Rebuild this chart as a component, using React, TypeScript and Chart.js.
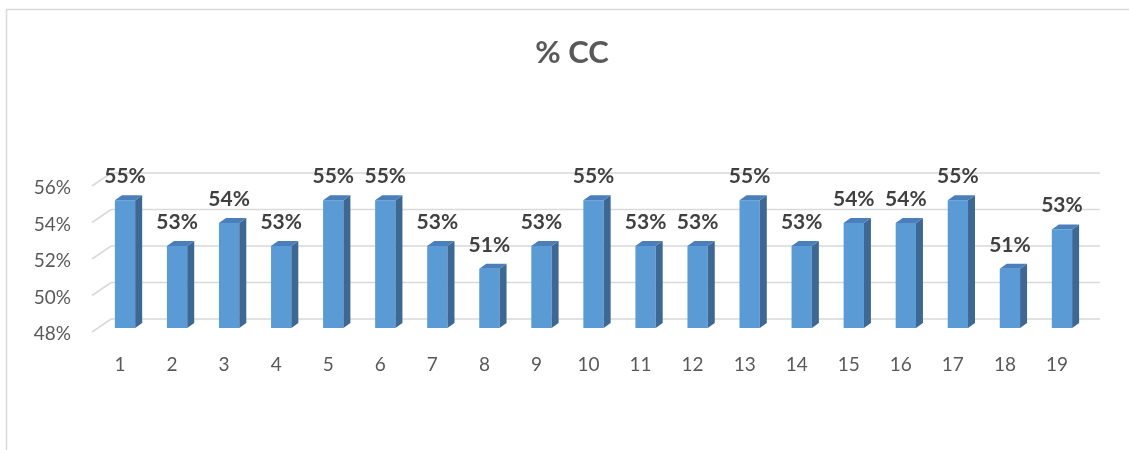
import React, { useEffect, useRef } from "react";
import { Chart, registerables } from "chart.js";

Chart.register(...registerables);

const categories: string[] = ["1","2","3","4","5","6","7","8","9","10","11","12","13","14","15","16","17","18","19"];
const ccValues: number[] = [55, 52.5, 53.75, 52.5, 55, 55, 52.5, 51.25, 52.5, 55, 52.5, 52.5, 55, 52.5, 53.75, 53.75, 55, 51.25, 53.4];
const yMin = 48;
const yMax = 56;
const yStep = 2;
const titleText = "% CC";

const FONT = "Lato, 'Open Sans', sans-serif";

const DEPTH_BAR = { dx: 7, dy: -5 };
const FRONT = { dx: -7, dy: 4 };
const BACK = { dx: 12, dy: -9 };

const threeDPlugin = {
  id: "threeD",
  beforeDraw(chart: any) {
    const ctx = chart.ctx;
    ctx.save();
    ctx.strokeStyle = "#d9d9d9";
    ctx.lineWidth = 1.5;
    ctx.beginPath();
    ctx.moveTo(6.5, 460);
    ctx.lineTo(6.5, 9.5);
    ctx.lineTo(1140, 9.5);
    ctx.stroke();
    // title
    ctx.fillStyle = "#595959";
    ctx.font = `bold 31px ${FONT}`;
    ctx.textAlign = "center";
    ctx.textBaseline = "middle";
    ctx.fillText(titleText, 572, 53);
    ctx.restore();
  },
  beforeDatasetsDraw(chart: any) {
    const ctx = chart.ctx;
    const ys = chart.scales.y;
    const area = chart.chartArea;
    ctx.save();
    ctx.strokeStyle = "#d9d9d9";
    ctx.lineWidth = 1.6;
    ys.ticks.forEach((t: any) => {
      const y = ys.getPixelForValue(t.value);
      ctx.beginPath();
      ctx.moveTo(area.left + FRONT.dx, y + FRONT.dy);
      ctx.lineTo(area.left + BACK.dx, y + BACK.dy);
      ctx.lineTo(area.right + BACK.dx, y + BACK.dy);
      ctx.stroke();
    });
    ctx.restore();
  },
  afterDatasetsDraw(chart: any) {
    const ctx = chart.ctx;
    const ys = chart.scales.y;
    const meta = chart.getDatasetMeta(0);
    const data = chart.data.datasets[0].data as number[];
    const base = ys.getPixelForValue(yMin);
    ctx.save();
    meta.data.forEach((bar: any, i: number) => {
      const { x, y, width } = bar.getProps(["x", "y", "width"], true);
      const l = x - width / 2;
      const r = x + width / 2;
      // side face
      ctx.fillStyle = "#3d6894";
      ctx.beginPath();
      ctx.moveTo(r, y);
      ctx.lineTo(r + DEPTH_BAR.dx, y + DEPTH_BAR.dy);
      ctx.lineTo(r + DEPTH_BAR.dx, base + DEPTH_BAR.dy);
      ctx.lineTo(r, base);
      ctx.closePath();
      ctx.fill();
      // top face
      ctx.fillStyle = "#4a7fbb";
      ctx.beginPath();
      ctx.moveTo(l, y);
      ctx.lineTo(l + DEPTH_BAR.dx, y + DEPTH_BAR.dy);
      ctx.lineTo(r + DEPTH_BAR.dx, y + DEPTH_BAR.dy);
      ctx.lineTo(r, y);
      ctx.closePath();
      ctx.fill();
      // data label
      ctx.fillStyle = "#404040";
      ctx.font = `bold 21px ${FONT}`;
      ctx.textAlign = "center";
      ctx.textBaseline = "alphabetic";
      ctx.fillText(`${Math.round(data[i])}%`, x, y - 17);
    });
    ctx.restore();
  },
};

export default function App() {
  const canvasRef = useRef<HTMLCanvasElement | null>(null);

  useEffect(() => {
    if (!canvasRef.current) return;
    const chart = new Chart(canvasRef.current, {
      type: "bar",
      data: {
        labels: categories,
        datasets: [
          {
            data: ccValues,
            backgroundColor: "#5b9bd5",
            borderWidth: 0,
            categoryPercentage: 1,
            barPercentage: 0.39,
          },
        ],
      },
      plugins: [threeDPlugin],
      options: {
        animation: false,
        responsive: false,
        devicePixelRatio: 1,
        layout: { padding: { left: 0, right: 41, top: 182, bottom: 62 } },
        plugins: {
          legend: { display: false },
          tooltip: { enabled: false },
          title: { display: false },
        },
        scales: {
          x: {
            offset: true,
            grid: { display: false, drawTicks: false },
            border: { display: false },
            ticks: {
              color: "#595959",
              font: { family: FONT, size: 19 },
              padding: 25,
              labelOffset: -5,
              maxRotation: 0,
              autoSkip: false,
            },
            afterFit: (s: any) => {
              s.height = 60;
            },
          },
          y: {
            min: yMin,
            max: yMax,
            grid: { display: false, drawTicks: false },
            border: { display: false },
            ticks: {
              stepSize: yStep,
              color: "#595959",
              font: { family: FONT, size: 19 },
              padding: 28,
              labelOffset: 6,
              callback: (v: any) => `${v}%`,
            },
            afterFit: (s: any) => {
              s.width = 99;
            },
          },
        },
      },
    });
    return () => chart.destroy();
  }, []);

  return (
    <div style={{ position: "fixed", left: 0, top: 0, width: 1129, height: 450, background: "#fff" }}>
      <canvas ref={canvasRef} width={1129} height={450} style={{ display: "block" }} />
    </div>
  );
}
